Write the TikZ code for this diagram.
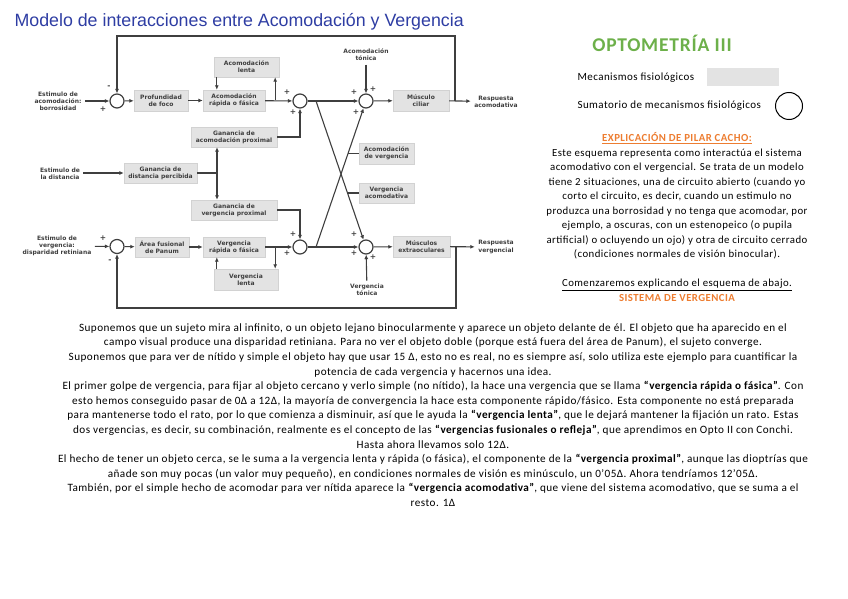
\documentclass[tikz,border=0pt]{standalone}
\usepackage{fontspec}
\setmainfont{Carlito}
\newfontfamily\widefont{Carlito}[LetterSpace=4]
\newfontfamily\diafont{DejaVu Sans}
\newfontfamily\titlefont{Liberation Sans}
\usepackage{xcolor}
\usetikzlibrary{positioning,arrows.meta}
\definecolor{titblue}{HTML}{2E3DA3}
\definecolor{optgreen}{HTML}{6DB04A}
\definecolor{pilarorange}{HTML}{ED7D31}
\definecolor{boxgray}{HTML}{E3E3E3}
\definecolor{boxedge}{HTML}{D2D2D2}
\definecolor{linegray}{HTML}{3F3F3F}

\begin{document}
\begin{tikzpicture}[x=1pt,y=-1pt,
  mech/.style={draw=boxedge,fill=boxgray,inner sep=0pt,align=center,text=linegray,
    font=\diafont\bfseries\fontsize{6}{7.2}\selectfont},
  sumc/.style={circle,draw=linegray,line width=1.2pt,minimum size=14pt,inner sep=0pt},
  lbl/.style={align=center,text=linegray,font=\diafont\bfseries\fontsize{6}{7.2}\selectfont},
  sgn/.style={inner sep=0pt,text=linegray,font=\diafont\bfseries\fontsize{7.5}{8}\selectfont},
  wire/.style={draw=linegray,line width=1.1pt},
  conn/.style={wire,-{Latex[length=4.5pt,width=4pt]}}]
\useasboundingbox (0,0) rectangle (848,599);

\node[anchor=west,text=titblue,font=\titlefont\fontsize{17.8}{20}\selectfont] (title) at (11,22) {Modelo de interacciones entre Acomodación y Vergencia};

\node[lbl] (stimA) at (58,101) {Estimulo de\\acomodación:\\borrosidad};
\node[sumc] (sA1) at (117,101) {};
\node[mech,minimum width=54pt,minimum height=21pt] (pfoco) at (161,100.5) {Profundidad\\de foco};
\node[mech,minimum width=62pt,minimum height=21pt] (arap) at (234,100.5) {Acomodación\\rápida o fásica};
\node[mech,minimum width=65pt,minimum height=20pt] (alen) at (246.5,67) {Acomodación\\lenta};
\node[sumc] (sA2) at (300,101) {};
\node[sumc] (sA3) at (366,101) {};
\node[lbl] (aton) at (366,55) {Acomodación\\tónica};
\node[mech,minimum width=56pt,minimum height=21pt] (cil) at (421,100.5) {Músculo\\ciliar};
\node[lbl] (racom) at (496,101.5) {Respuesta\\acomodativa};

\node[lbl] (sdist) at (60,174) {Estimulo de\\la distancia};
\node[mech,minimum width=73pt,minimum height=20pt] (gdp) at (160.5,173) {Ganancia de\\distancia percibida};
\node[mech,minimum width=86pt,minimum height=20pt] (gacp) at (234,137) {Ganancia de\\acomodación proximal};
\node[mech,minimum width=86pt,minimum height=20pt] (gvp) at (234,210) {Ganancia de\\vergencia proximal};
\node[mech,minimum width=55pt,minimum height=21pt] (acv) at (386.5,153.5) {Acomodación\\de vergencia};
\node[mech,minimum width=55pt,minimum height=20pt] (vac) at (386.5,193) {Vergencia\\acomodativa};

\node[lbl] (stimV) at (57,246) {Estimulo de\\vergencia:\\disparidad retiniana};
\node[sumc] (sV1) at (117,246.5) {};
\node[mech,minimum width=54pt,minimum height=20pt] (panum) at (162,247) {Área fusional\\de Panum};
\node[mech,minimum width=62pt,minimum height=20pt] (vrap) at (234,247) {Vergencia\\rápida o fásica};
\node[mech,minimum width=64pt,minimum height=21pt] (vlen) at (246,279.5) {Vergencia\\lenta};
\node[sumc] (sV2) at (300,247) {};
\node[sumc] (sV3) at (366,247) {};
\node[lbl] (vton) at (367,290) {Vergencia\\tónica};
\node[mech,minimum width=57pt,minimum height=21pt] (extra) at (421.5,246.5) {Músculos\\extraoculares};
\node[lbl] (rverg) at (496,247) {Respuesta\\vergencial};

\node[sgn] (mA1) at (109,87) {-};
\node[sgn] (pA1) at (103,109) {+};
\node[sgn] (pA2a) at (287,92) {+};
\node[sgn] (pA2b) at (293,112) {+};
\node[sgn] (pA3a) at (354,92) {+};
\node[sgn] (pA3b) at (373,89) {+};
\node[sgn] (pA3c) at (356,112) {+};
\node[sgn] (pV1) at (103,238) {+};
\node[sgn] (mV1) at (110,261) {-};
\node[sgn] (pV2a) at (293,234) {+};
\node[sgn] (pV2b) at (287,253) {+};
\node[sgn] (pV3a) at (354,234) {+};
\node[sgn] (pV3b) at (354,253) {+};
\node[sgn] (pV3c) at (373,257) {+};

\coordinate (fbA) at (455,101);
\coordinate (fbV) at (456,247);
\coordinate (split) at (217,173);
\coordinate (xa) at (316,101);
\coordinate (xb) at (316,247);
\coordinate (ca) at (348,153.5);
\coordinate (cv) at (347.5,193);

\draw[conn] (stimA) -- (sA1);
\draw[conn] (sA1) -- (pfoco);
\draw[conn] (pfoco) -- (arap);
\draw[conn] (arap) -- (sA2);
\draw[conn] ([xshift=3pt]alen.south west) -- ([xshift=3pt]alen.south west |- arap.north);
\draw[conn] ([xshift=-4pt]alen.south east |- arap.east) -- ([xshift=-4pt]alen.south east);
\draw[conn] (gacp.east) -| (sA2.south);
\draw[conn] (sA2) -- (sA3);
\draw[conn] (aton) -- (sA3);
\draw[conn] (sA3) -- (cil);
\draw[conn] (cil) -- (racom);
\draw[conn] (fbA) -- ++(0,-65) -| (sA1.north);

\draw[conn] (sdist.east |- gdp.west) -- (gdp.west);
\draw[wire] (gdp) -- (split);
\draw[conn] (split) -- (split |- gacp.south);
\draw[conn] (split) -- (split |- gvp.north);

\draw[conn] (xa) -- (sV3);
\draw[conn] (xb) -- (sA3);
\draw[wire] (acv.west) -- (ca);
\draw[wire] (vac.west) -- (cv);

\draw[conn] (stimV) -- (sV1);
\draw[conn] (sV1) -- (panum);
\draw[conn] (panum) -- (vrap);
\draw[conn] (vrap) -- (sV2);
\draw[conn] ([xshift=-3pt]vlen.north east |- vrap.east) -- ([xshift=-3pt]vlen.north east);
\draw[conn] ([xshift=3pt]vlen.north west) -- ([xshift=3pt]vlen.north west |- vrap.south);
\draw[conn] (gvp.east) -| (sV2.north);
\draw[conn] (sV2) -- (sV3);
\draw[conn] (vton) -- (sV3);
\draw[conn] (sV3) -- (extra);
\draw[conn] (extra) -- (rverg);
\draw[conn] (fbV) -- ++(0,61) -| (sV1.south);

\node[text=optgreen,font=\widefont\bfseries\fontsize{19.5}{22}\selectfont] (opto) at (662,43) {OPTOMETRÍA III};
\node[anchor=west,font=\widefont\fontsize{11}{12}\selectfont] (leg1) at (574,78) {Mecanismos fisiológicos};
\node[fill=boxgray,minimum width=72pt,minimum height=18pt,inner sep=0pt] (legbox) at (743,77) {};
\node[anchor=west,font=\widefont\fontsize{11}{12}\selectfont] (leg2) at (574,106) {Sumatorio de mecanismos fisiológicos};
\node[circle,draw=black,line width=1pt,minimum size=27pt,inner sep=0pt] (legcirc) at (789,106) {};

\node[align=center,font=\widefont\fontsize{10.8}{14.5}\selectfont] (expl) at (677,217) {%
\textcolor{pilarorange}{\bfseries\underline{EXPLICACIÓN DE PILAR CACHO:}}\\
Este esquema representa como interactúa el sistema\\
acomodativo con el vergencial. Se trata de un modelo\\
tiene 2 situaciones, una de circuito abierto (cuando yo\\
corto el circuito, es decir, cuando un estimulo no\\
produzca una borrosidad y no tenga que acomodar, por\\
ejemplo, a oscuras, con un estenopeico (o pupila\\
artificial) o ocluyendo un ojo) y otra de circuito cerrado\\
(condiciones normales de visión binocular).\\[14.5pt]
\underline{Comenzaremos explicando el esquema de abajo.}\\
\textcolor{pilarorange}{\bfseries SISTEMA DE VERGENCIA}};

\node[align=center,font=\widefont\fontsize{11.2}{14.6}\selectfont] (story) at (433,415) {%
Suponemos que un sujeto mira al infinito, o un objeto lejano binocularmente y aparece un objeto delante de él. El objeto que ha aparecido en el\\
campo visual produce una disparidad retiniana. Para no ver el objeto doble (porque está fuera del área de Panum), el sujeto converge.\\
Suponemos que para ver de nítido y simple el objeto hay que usar 15 Δ, esto no es real, no es siempre así, solo utiliza este ejemplo para cuantificar la\\
potencia de cada vergencia y hacernos una idea.\\
El primer golpe de vergencia, para fijar al objeto cercano y verlo simple (no nítido), la hace una vergencia que se llama \textbf{“vergencia rápida o fásica”}. Con\\
esto hemos conseguido pasar de 0Δ a 12Δ, la mayoría de convergencia la hace esta componente rápido/fásico. Esta componente no está preparada\\
para mantenerse todo el rato, por lo que comienza a disminuir, así que le ayuda la \textbf{“vergencia lenta”}, que le dejará mantener la fijación un rato. Estas\\
dos vergencias, es decir, su combinación, realmente es el concepto de las \textbf{“vergencias fusionales o refleja”}, que aprendimos en Opto II con Conchi.\\
Hasta ahora llevamos solo 12Δ.\\
El hecho de tener un objeto cerca, se le suma a la vergencia lenta y rápida (o fásica), el componente de la \textbf{“vergencia proximal”}, aunque las dioptrías que\\
añade son muy pocas (un valor muy pequeño), en condiciones normales de visión es minúsculo, un 0’05Δ. Ahora tendríamos 12’05Δ.\\
También, por el simple hecho de acomodar para ver nítida aparece la \textbf{“vergencia acomodativa”}, que viene del sistema acomodativo, que se suma a el\\
resto. 1Δ};
\end{tikzpicture}
\end{document}
